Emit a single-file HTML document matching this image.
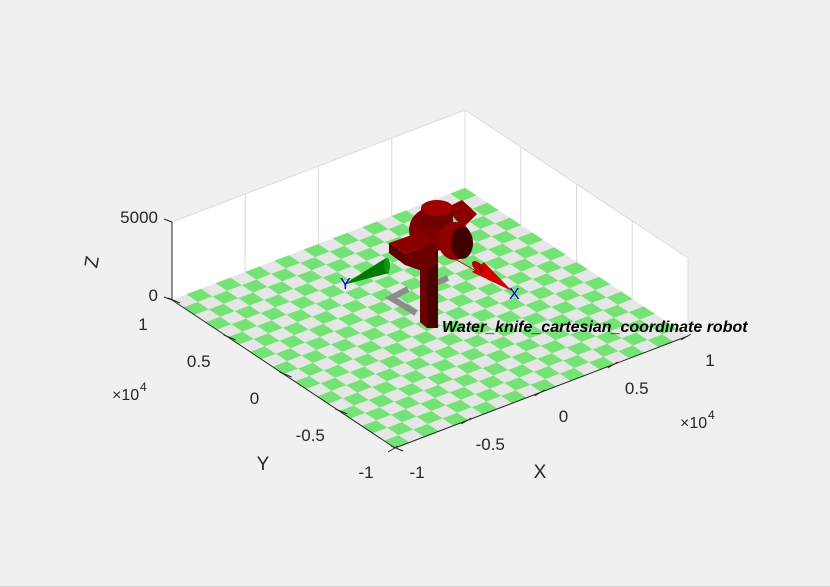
<!DOCTYPE html>
<html><head><meta charset="utf-8">
<style>
html,body{margin:0;padding:0;background:#f0f0f0;}
svg{display:block;font-family:"Liberation Sans",sans-serif;}
</style></head>
<body>
<svg id="chart" width="830" height="587" viewBox="0 0 830 587" xmlns="http://www.w3.org/2000/svg">
<rect x="0" y="0" width="830" height="587" fill="#f0f0f0"/>
<line x1="0" y1="586.5" x2="830" y2="586.5" stroke="#d0d0d0"/>
<g id="walls"></g>
<g id="floor"></g>
<g id="axes"></g>
<g>
  <polyline points="416,313 391,298 408,289" fill="none" stroke="#8c8c8c" stroke-width="6"/>
  <polyline points="425,287 448,278" fill="none" stroke="#8c8c8c" stroke-width="6"/>
  <line x1="453" y1="258" x2="478" y2="272" stroke="#cc0000" stroke-width="1"/>
  <polygon points="472,272 484,262 512,291" fill="#d40000"/>
  <ellipse cx="478" cy="267" rx="4" ry="7.5" transform="rotate(-45 478 267)" fill="#b00000"/>
  <polygon points="386,258 389,273 343,285" fill="#007a00"/>
  <ellipse cx="387" cy="265.5" rx="3" ry="7.5" fill="#0a9a0a"/>
  <circle cx="431" cy="230" r="22" fill="#800000"/>
  <polygon points="446,208 462,200 477,214 463,228" fill="#8a0000"/>
  <rect x="421" y="208" width="32" height="20" fill="#6e0000"/>
  <ellipse cx="437" cy="208" rx="16" ry="8" fill="#a00000"/>
  <ellipse cx="455" cy="241" rx="17" ry="19" fill="#900000"/>
  <ellipse cx="462" cy="243" rx="11" ry="16" fill="#400000"/>
  <polygon points="420,250 438,250 438,328 427,328 420,322" fill="#4a0000"/>
  <polygon points="420,250 427,255 427,328 420,322" fill="#6a0000"/>
  <polygon points="389,243 420,232 434,243 405,254" fill="#8a0000"/>
  <polygon points="389,243 405,254 405,265 389,253" fill="#5a0000"/>
  <polygon points="405,254 434,243 437,264 425,272 405,265" fill="#6a0000"/>
  <text x="340" y="289" font-size="16" fill="#0000cc">Y</text>
  <text x="509" y="299" font-size="16" fill="#0000cc">X</text>
  <text x="442" y="332" font-size="16" font-weight="bold" font-style="italic" fill="#000">Water_knife_cartesian_coordinate robot</text>
</g>
</svg>
<script>
const xTicks = [-1, -0.5, 0, 0.5, 1];
const yTicks = [-1, -0.5, 0, 0.5, 1];
const xTickLabels = ["-1", "-0.5", "0", "0.5", "1"];
const yTickLabels = ["-1", "-0.5", "0", "0.5", "1"];
const zTicks = [0, 5000];
const zTickLabels = ["0", "5000"];
const floorCells = 20;

const F = [395, 448], RX = [293, -112], LY = [-223, -148], ZS = 78 / 5000;
function P(x, y, z) {
  return [F[0] + (x + 1) / 2 * RX[0] + (y + 1) / 2 * LY[0],
          F[1] + (x + 1) / 2 * RX[1] + (y + 1) / 2 * LY[1] - z * ZS];
}
const NS = "http://www.w3.org/2000/svg";
function mk(tag, attrs, parent) {
  const e = document.createElementNS(NS, tag);
  for (const k in attrs) e.setAttribute(k, attrs[k]);
  parent.appendChild(e);
  return e;
}
function pts(a) { return a.map(p => p[0].toFixed(1) + "," + p[1].toFixed(1)).join(" "); }

const walls = document.getElementById("walls");
const zTop = zTicks[zTicks.length - 1];
let w1 = mk("polygon", {points: pts([P(-1,1,0), P(1,1,0), P(1,1,zTop), P(-1,1,zTop)]), fill: "#ffffff"}, walls);


let w2 = mk("polygon", {points: pts([P(1,1,0), P(1,-1,0), P(1,-1,zTop), P(1,1,zTop)]), fill: "#ffffff"}, walls);


xTicks.forEach(t => {
  const a = P(t, 1, 0), b = P(t, 1, zTop);
  const l = mk("line", {x1: a[0], y1: a[1], x2: b[0], y2: b[1], stroke: "#dcdcdc"}, walls);
  
  
});
yTicks.forEach(t => {
  const a = P(1, t, 0), b = P(1, t, zTop);
  const l = mk("line", {x1: a[0], y1: a[1], x2: b[0], y2: b[1], stroke: "#dcdcdc"}, walls);
  
  
});
let tb = mk("polyline", {points: pts([P(-1,1,zTop), P(1,1,zTop), P(1,-1,zTop)]), fill: "none", stroke: "#dcdcdc"}, walls);



const floor = document.getElementById("floor");
const step = 2 / floorCells;
for (let i = 0; i < floorCells; i++) {
  for (let j = 0; j < floorCells; j++) {
    const x0 = -1 + i * step, y0 = -1 + j * step;
    const c = mk("polygon", {points: pts([P(x0,y0,0), P(x0+step,y0,0), P(x0+step,y0+step,0), P(x0,y0+step,0)]),
      fill: (i + j) % 2 === 0 ? "#74e274" : "#e6e6e6", stroke: (i + j) % 2 === 0 ? "#74e274" : "#e6e6e6", "stroke-width": 0.3}, floor);
    
    
  }
}

const axes = document.getElementById("axes");
function line(a, b, name, color) {
  const l = mk("line", {x1: a[0], y1: a[1], x2: b[0], y2: b[1], stroke: color || "#262626", "stroke-width": 1}, axes);
  
  
}
function text(x, y, s, name, size, anchor) {
  const t = mk("text", {x: x, y: y, "font-size": size || 17, fill: "#262626", "text-anchor": anchor || "middle"}, axes);
  t.textContent = s;
  
  
  return t;
}
line(P(-1,-1,0), P(1,-1,0), "x-axis-line");
line(P(-1,-1,0), P(-1,1,0), "y-axis-line");
line(P(-1,1,0), P(-1,1,zTop), "z-axis-line");
xTicks.forEach((t, i) => {
  const a = P(t, -1, 0);
  line([a[0] + 3, a[1] - 2], [a[0] - 7, a[1] + 4], "x-tick");
  text(a[0] + 22, a[1] + 30, xTickLabels[i], "x-tick-label");
});
yTicks.forEach((t, i) => {
  const a = P(-1, t, 0);
  line([a[0] - 4, a[1] - 2], [a[0] + 8, a[1] + 3], "y-tick");
  text(a[0] - 29, a[1] + 30, yTickLabels[i], "y-tick-label");
});
zTicks.forEach((t, i) => {
  const a = P(-1, 1, t);
  line(a, [a[0] - 8, a[1] - 3], "z-tick");
  text(a[0] - 14, a[1] + 1, zTickLabels[i], "z-tick-label", 17, "end");
});
text(540, 478, "X", "x-axis-title", 19);
text(263, 470, "Y", "y-axis-title", 19);
const zt = text(98, 263, "Z", "z-axis-title", 19);
zt.setAttribute("transform", "rotate(-80 98 263)");
text(112, 400, "\u00d710", "y-exponent", 16, "start");
text(140, 391, "4", "y-exponent-power", 12, "start");
text(680, 428, "\u00d710", "x-exponent", 16, "start");
text(708, 419, "4", "x-exponent-power", 12, "start");
</script>
</body></html>
